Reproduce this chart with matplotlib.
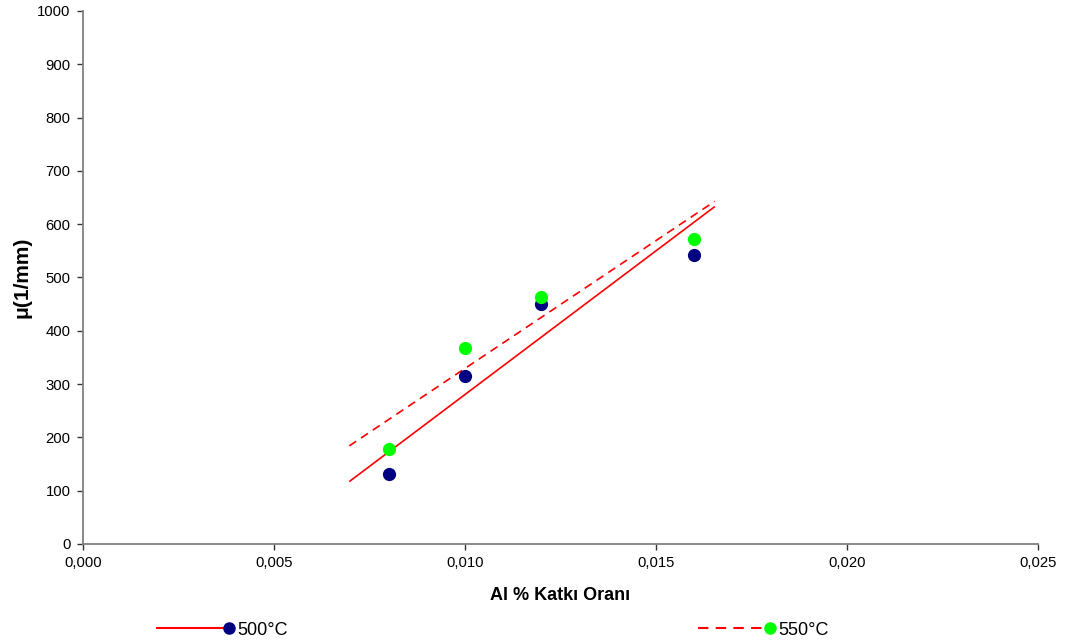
import matplotlib
matplotlib.use("Agg")
import matplotlib.pyplot as plt
from matplotlib.ticker import FuncFormatter, MultipleLocator
from matplotlib.legend_handler import HandlerLine2D

plt.rcParams["font.family"] = ["Liberation Sans", "DejaVu Sans"]

# Measured attenuation coefficient vs. Al doping ratio
al_ratio = [0.008, 0.010, 0.012, 0.016]
mu_500 = [131, 316, 450, 543]
mu_550 = [178, 368, 464, 573]

# Linear trend lines (endpoints)
trend_x = [0.00697, 0.01654]
trend_500 = [117, 633]
trend_550 = [184, 643]

series_labels = ["500°C", "550°C"]

fig = plt.figure(figsize=(10.67, 6.43), dpi=100)
ax = fig.add_axes([0.0778, 0.154, 0.895, 0.829])

red = "#FF0000"
dash = (0, (5, 3.5))
ax.plot(trend_x, trend_500, color=red, lw=1.2, solid_capstyle="butt", zorder=2)
ax.plot(trend_x, trend_550, color=red, lw=1.2, ls=dash, zorder=2)
ax.plot(al_ratio, mu_500, ls="none", marker="o", ms=8.5, color="#000080", zorder=3)
ax.plot(al_ratio, mu_550, ls="none", marker="o", ms=8.5, color="#00FF00", zorder=3)

ax.set_xlim(0, 0.025)
ax.set_ylim(0, 1000)
ax.xaxis.set_major_locator(MultipleLocator(0.005))
ax.yaxis.set_major_locator(MultipleLocator(100))
ax.xaxis.set_major_formatter(FuncFormatter(lambda v, p: f"{v:.3f}".replace(".", ",")))
ax.yaxis.set_major_formatter(FuncFormatter(lambda v, p: f"{v:.0f}"))

for side in ("top", "right"):
    ax.spines[side].set_visible(False)
for side in ("left", "bottom"):
    ax.spines[side].set_color("#808080")
    ax.spines[side].set_linewidth(1.3)
ax.tick_params(direction="out", length=4, width=1, color="#333333",
               labelsize=10.7, labelcolor="black", pad=5)

ax.set_xlabel("Al % Katkı Oranı", fontsize=13, fontweight="bold", labelpad=12)
ax.set_ylabel("μ(1/mm)", fontsize=15, fontweight="bold", labelpad=4)


class EndMarkerHandler(HandlerLine2D):
    """Legend handle with the marker sitting at the right end of the line."""
    def create_artists(self, legend, orig_handle, xdescent, ydescent,
                       width, height, fontsize, trans):
        artists = super().create_artists(legend, orig_handle, xdescent, ydescent,
                                         width, height, fontsize, trans)
        for a in artists:
            xd = list(a.get_xdata())
            if len(xd) > 1:
                a.set_markevery([len(xd) - 1])
        return artists


h1, = ax.plot([], [], color=red, lw=1.5, marker="o", ms=8,
              mfc="#000080", mec="#000080")
h2, = ax.plot([], [], color=red, lw=1.5, ls=dash, marker="o", ms=8,
              mfc="#00FF00", mec="#00FF00")
fig.legend([h1, h2], series_labels, loc="center",
           bbox_to_anchor=(0.462, 0.020), ncol=2, frameon=False,
           fontsize=13, handlelength=4.0, handletextpad=0.45,
           columnspacing=22.7, numpoints=1,
           handler_map={h1: EndMarkerHandler(), h2: EndMarkerHandler()})

fig.savefig("out.png", dpi=100)
